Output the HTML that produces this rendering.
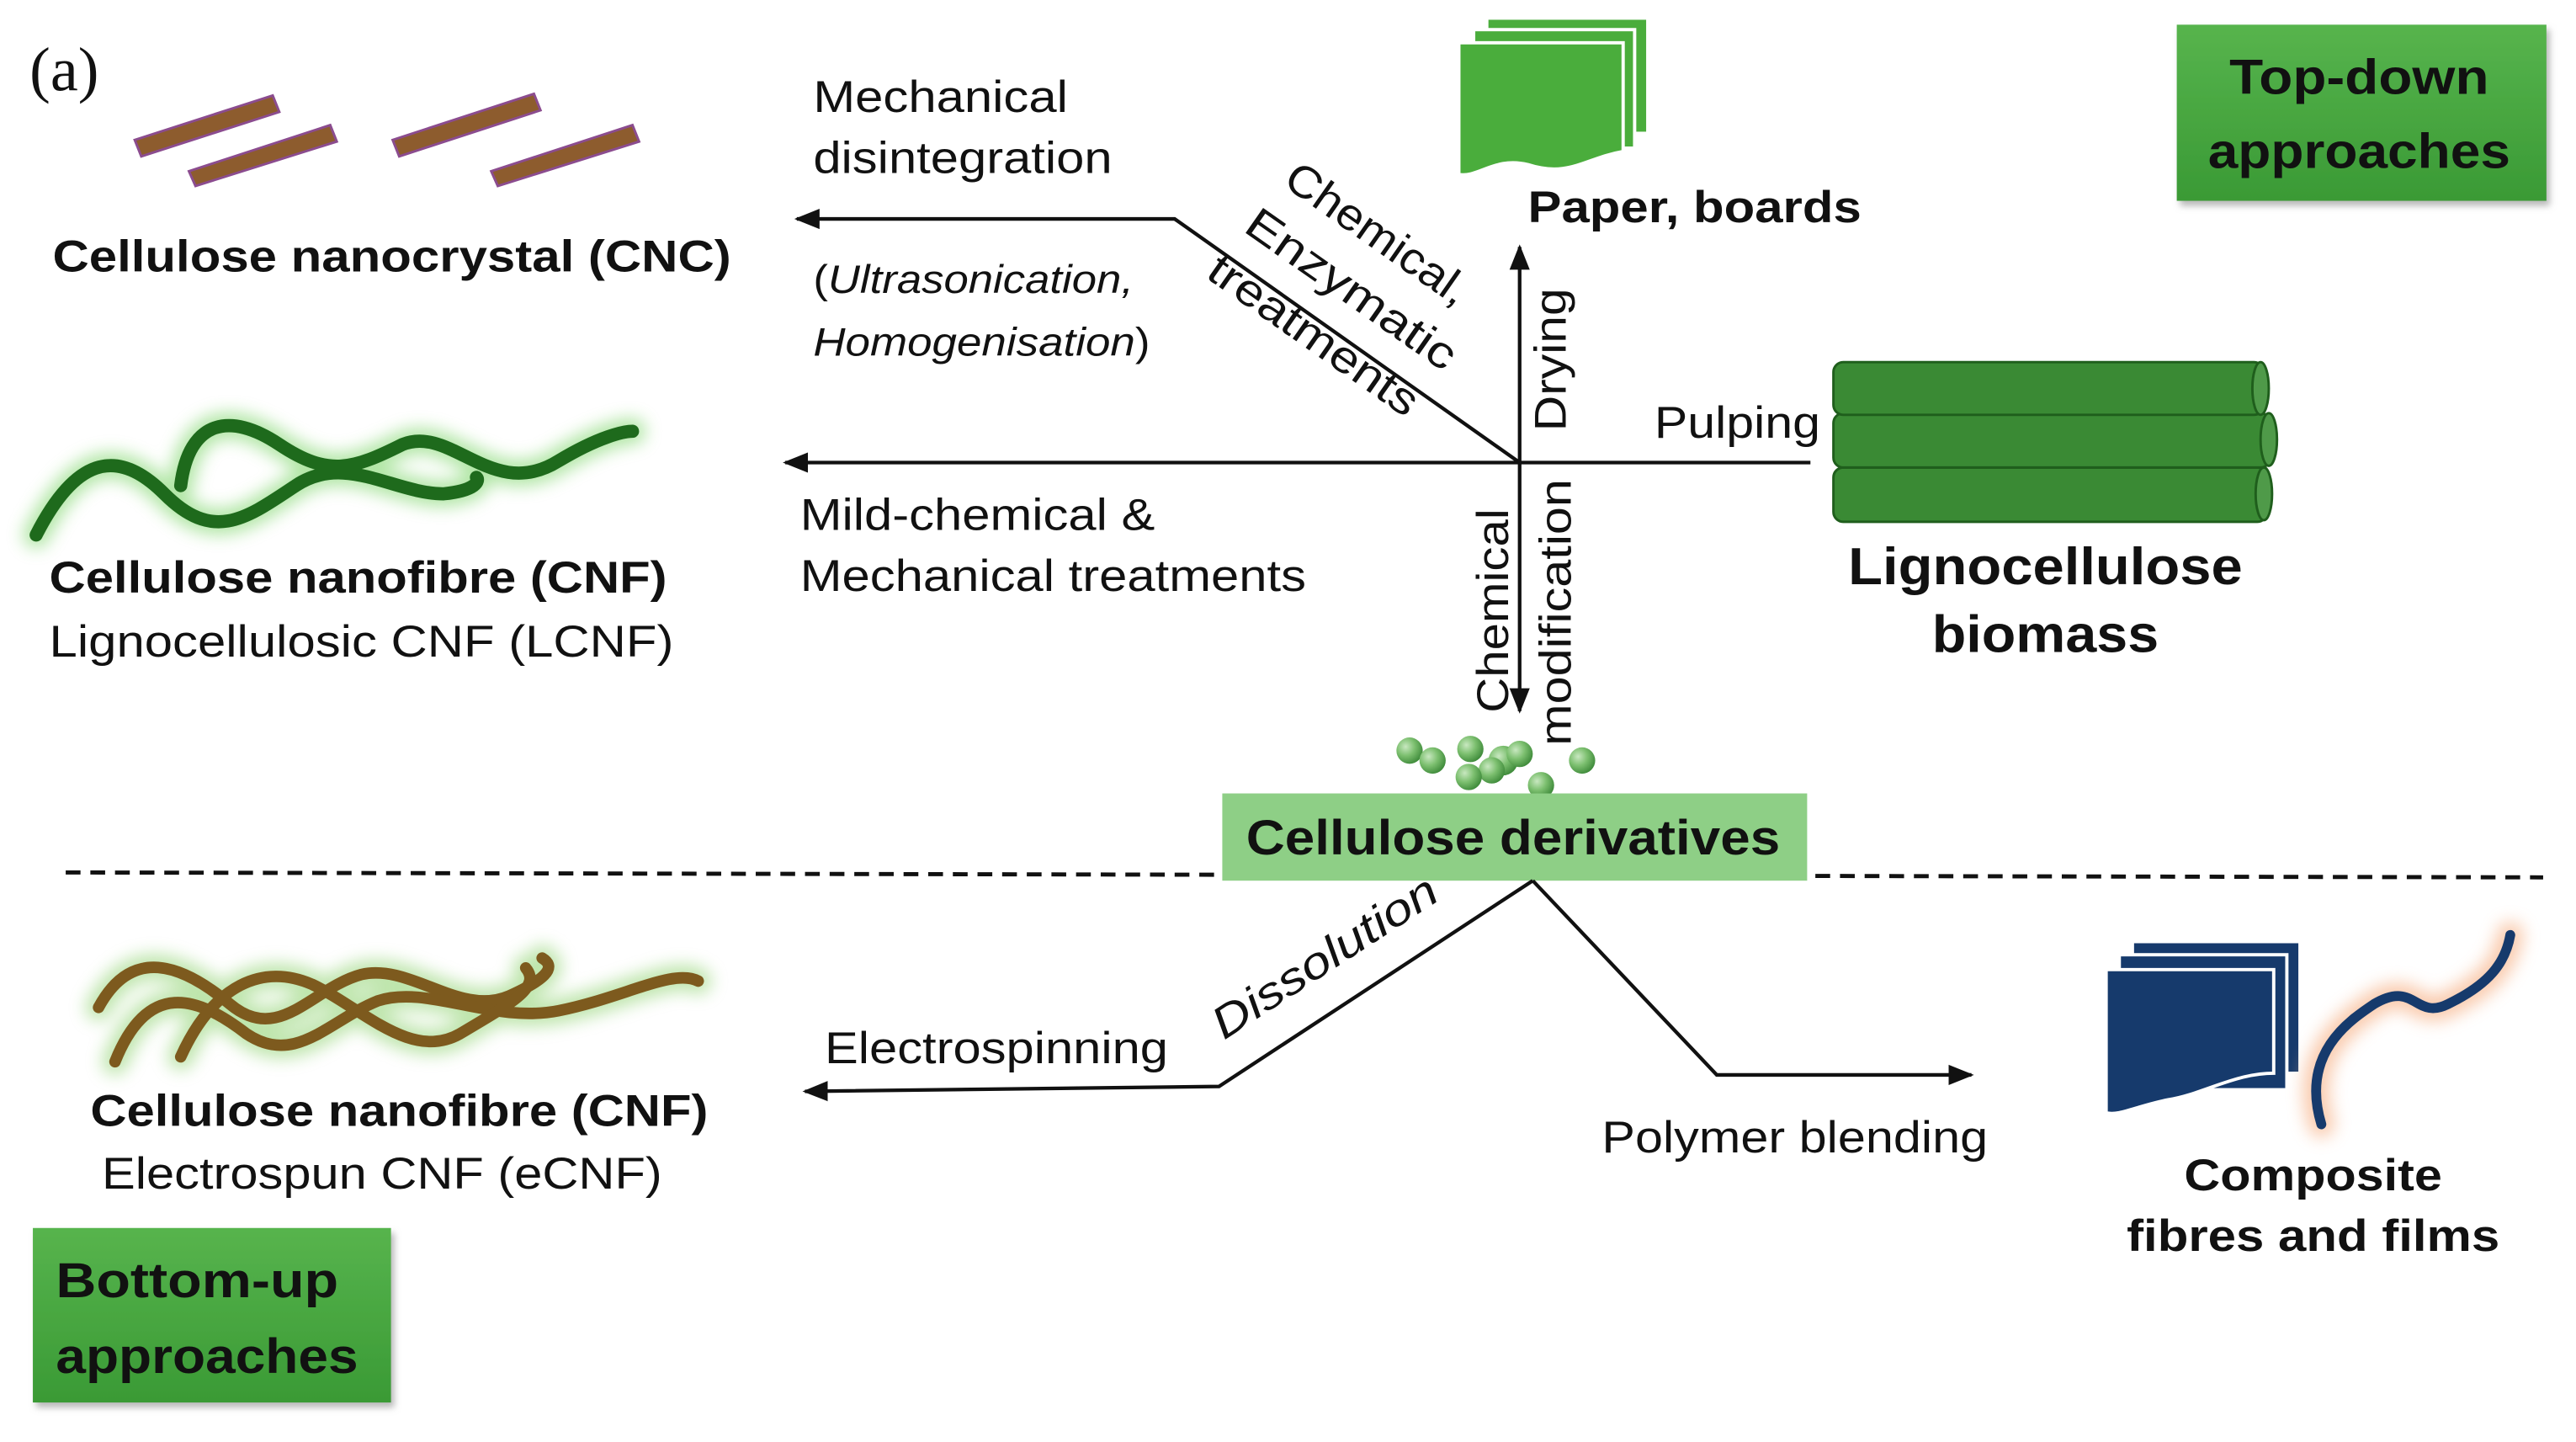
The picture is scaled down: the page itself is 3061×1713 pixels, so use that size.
<!DOCTYPE html>
<html><head><meta charset="utf-8"><style>
html,body{margin:0;padding:0;background:#fff;width:3061px;height:1713px;overflow:hidden}
svg{display:block}
text{font-family:"Liberation Sans",sans-serif;fill:#111}
.b{font-weight:bold}
</style></head><body>
<svg width="3061" height="1713" viewBox="0 0 1568 876" preserveAspectRatio="none" xmlns="http://www.w3.org/2000/svg">
<defs>
<marker id="ah" viewBox="0 0 10 10" refX="9" refY="5" markerWidth="7" markerHeight="7" orient="auto-start-reverse"><path d="M0,1 L10,5 L0,9 z" fill="#111"/></marker>
<linearGradient id="gb" x1="0" y1="0" x2="0" y2="1"><stop offset="0" stop-color="#57b44d"/><stop offset="1" stop-color="#3a9a35"/></linearGradient>
<filter id="glow" x="-20%" y="-40%" width="140%" height="180%"><feGaussianBlur stdDeviation="5"/></filter>
<filter id="sh"><feDropShadow dx="2" dy="3" stdDeviation="2" flood-color="#888" flood-opacity=".6"/></filter>
<radialGradient id="sp" cx=".35" cy=".35" r=".7"><stop offset="0" stop-color="#c8e8c0"/><stop offset=".5" stop-color="#7cbf6f"/><stop offset="1" stop-color="#3e8a3a"/></radialGradient>
</defs>
<text x="18" y="55" style="font-family:'Liberation Serif',serif" font-size="38">(a)</text>
<g stroke="#8b4c8f" stroke-width="1.5" fill="#8d5c2e">
<polygon points="82,85 166,58 170,68 86,95"/>
<polygon points="115,104 201,76 205,86 119,113"/>
<polygon points="239,85 325,57 329,67 243,95"/>
<polygon points="299,104 385,76 389,86 303,113"/>
</g>
<text x="32" y="165" class="b" font-size="27" textLength="413" lengthAdjust="spacingAndGlyphs">Cellulose nanocrystal (CNC)</text>
<g fill="none" stroke-linecap="round">
<g stroke="#7ed66a" stroke-width="16" opacity=".6" filter="url(#glow)">
<path d="M22,325 C45,280 70,270 100,300 C130,330 150,315 180,295 C210,275 240,300 270,300 C290,298 292,292 290,290"/>
<path d="M110,295 C115,255 140,250 170,270 C200,290 215,285 245,270 C275,258 300,305 340,280 C365,265 380,262 385,262"/>
</g>
<g stroke="#1e6a1c" stroke-width="8">
<path d="M22,325 C45,280 70,270 100,300 C130,330 150,315 180,295 C210,275 240,300 270,300 C290,298 292,292 290,290"/>
<path d="M110,295 C115,255 140,250 170,270 C200,290 215,285 245,270 C275,258 300,305 340,280 C365,265 380,262 385,262"/>
</g>
</g>
<text x="30" y="360" class="b" font-size="27" textLength="376" lengthAdjust="spacingAndGlyphs">Cellulose nanofibre (CNF)</text>
<text x="30" y="399" font-size="27" textLength="380" lengthAdjust="spacingAndGlyphs">Lignocellulosic CNF (LCNF)</text>
<g stroke="#111" stroke-width="2.2" fill="none">
<polyline points="925,281 715,133 485,133" marker-end="url(#ah)"/>
<line x1="1102" y1="281" x2="478" y2="281" marker-end="url(#ah)"/>
<line x1="925" y1="281" x2="925" y2="150" marker-end="url(#ah)"/>
<line x1="925" y1="281" x2="925" y2="432" marker-end="url(#ah)"/>
</g>
<text x="495" y="68" font-size="27" textLength="155" lengthAdjust="spacingAndGlyphs">Mechanical</text>
<text x="495" y="105" font-size="27" textLength="182" lengthAdjust="spacingAndGlyphs">disintegration</text>
<text x="495" y="178" font-size="24" textLength="195" lengthAdjust="spacingAndGlyphs">(<tspan font-style="italic">Ultrasonication,</tspan></text>
<text x="495" y="216" font-size="24" textLength="205" lengthAdjust="spacingAndGlyphs"><tspan font-style="italic">Homogenisation</tspan>)</text>
<g transform="translate(780,112) rotate(35)"><text font-size="27" textLength="130" lengthAdjust="spacingAndGlyphs">Chemical,</text></g>
<g transform="translate(756,140) rotate(35)"><text font-size="27" textLength="150" lengthAdjust="spacingAndGlyphs">Enzymatic</text></g>
<g transform="translate(733,168) rotate(35)"><text font-size="27" textLength="150" lengthAdjust="spacingAndGlyphs">treatments</text></g>
<g transform="translate(953,262) rotate(-90)"><text font-size="27" textLength="87" lengthAdjust="spacingAndGlyphs">Drying</text></g>
<text x="1007" y="266" font-size="27" textLength="101" lengthAdjust="spacingAndGlyphs">Pulping</text>
<g transform="translate(918,433) rotate(-90)"><text font-size="27" textLength="124" lengthAdjust="spacingAndGlyphs">Chemical</text></g>
<g transform="translate(956,453) rotate(-90)"><text font-size="27" textLength="162" lengthAdjust="spacingAndGlyphs">modification</text></g>
<text x="487" y="322" font-size="27" textLength="216" lengthAdjust="spacingAndGlyphs">Mild-chemical &amp;</text>
<text x="487" y="359" font-size="27" textLength="308" lengthAdjust="spacingAndGlyphs">Mechanical treatments</text>
<g fill="#4aad3c" stroke="#fff" stroke-width="2">
<rect x="905" y="11" width="98" height="70"/>
<rect x="897" y="18" width="98" height="72"/>
<path d="M888,26 H988 V92 C965,96 955,108 930,100 C910,95 900,108 888,106 Z"/>
</g>
<text x="930" y="135" class="b" font-size="27" textLength="203" lengthAdjust="spacingAndGlyphs">Paper, boards</text>
<g stroke="#1f5e1c" stroke-width="1.5">
<rect x="1116" y="284" width="264" height="33" rx="6" fill="#3a8a34"/>
<ellipse cx="1378" cy="300" rx="5" ry="16" fill="#4f9a49"/>
<rect x="1116" y="251" width="266" height="33" rx="6" fill="#3a8a34"/>
<ellipse cx="1381" cy="267" rx="5" ry="16" fill="#4f9a49"/>
<rect x="1116" y="220" width="262" height="32" rx="6" fill="#3a8a34"/>
<ellipse cx="1376" cy="236" rx="5" ry="16" fill="#4f9a49"/>
</g>
<text x="1245" y="355" class="b" font-size="32" text-anchor="middle" textLength="240" lengthAdjust="spacingAndGlyphs">Lignocellulose</text>
<text x="1245" y="396" class="b" font-size="32" text-anchor="middle" textLength="138" lengthAdjust="spacingAndGlyphs">biomass</text>
<rect x="1325" y="15" width="225" height="107" fill="url(#gb)" filter="url(#sh)"/>
<text x="1436" y="57" class="b" font-size="30" text-anchor="middle" textLength="158" lengthAdjust="spacingAndGlyphs">Top-down</text>
<text x="1436" y="102" class="b" font-size="30" text-anchor="middle" textLength="184" lengthAdjust="spacingAndGlyphs">approaches</text>
<g fill="url(#sp)">
<circle cx="858" cy="456" r="8"/><circle cx="872" cy="462" r="8"/><circle cx="895" cy="455" r="8"/>
<circle cx="915" cy="462" r="9"/><circle cx="908" cy="468" r="8"/><circle cx="894" cy="472" r="8"/>
<circle cx="925" cy="458" r="8"/><circle cx="963" cy="462" r="8"/><circle cx="938" cy="477" r="8"/>
</g>
<line x1="40" y1="530" x2="1548" y2="533" stroke="#111" stroke-width="2.5" stroke-dasharray="9,6"/>
<rect x="744" y="482" width="356" height="53" fill="#8ecf86"/>
<text x="921" y="519" class="b" font-size="30" text-anchor="middle" textLength="325" lengthAdjust="spacingAndGlyphs">Cellulose derivatives</text>
<g stroke="#111" stroke-width="2.2" fill="none">
<polyline points="933,535 742,660 490,663" marker-end="url(#ah)"/>
<polyline points="933,535 1045,653 1200,653" marker-end="url(#ah)"/>
</g>
<g transform="translate(745,632) rotate(-33)"><text font-size="27" font-style="italic" textLength="158" lengthAdjust="spacingAndGlyphs">Dissolution</text></g>
<text x="502" y="646" font-size="27" textLength="209" lengthAdjust="spacingAndGlyphs">Electrospinning</text>
<text x="975" y="700" font-size="27" textLength="235" lengthAdjust="spacingAndGlyphs">Polymer blending</text>
<g fill="none" stroke-linecap="round">
<g stroke="#8ad06a" stroke-width="16" opacity=".55" filter="url(#glow)">
<path d="M60,612 C80,575 110,585 140,610 C170,635 190,600 220,592 C250,585 280,618 310,605 C330,596 340,588 330,582"/>
<path d="M70,645 C90,595 120,605 150,628 C180,648 200,620 230,608 C260,598 300,622 340,614 C380,606 410,588 425,596"/>
<path d="M110,642 C130,598 160,585 190,598 C220,612 250,645 280,628 C310,610 330,600 320,588"/>
</g>
<g stroke="#7d5a1e" stroke-width="7">
<path d="M60,612 C80,575 110,585 140,610 C170,635 190,600 220,592 C250,585 280,618 310,605 C330,596 340,588 330,582"/>
<path d="M70,645 C90,595 120,605 150,628 C180,648 200,620 230,608 C260,598 300,622 340,614 C380,606 410,588 425,596"/>
<path d="M110,642 C130,598 160,585 190,598 C220,612 250,645 280,628 C310,610 330,600 320,588"/>
</g>
</g>
<text x="55" y="684" class="b" font-size="27" textLength="376" lengthAdjust="spacingAndGlyphs">Cellulose nanofibre (CNF)</text>
<text x="62" y="722" font-size="27" textLength="341" lengthAdjust="spacingAndGlyphs">Electrospun CNF (eCNF)</text>
<rect x="20" y="746" width="218" height="106" fill="url(#gb)" filter="url(#sh)"/>
<text x="34" y="788" class="b" font-size="30" textLength="172" lengthAdjust="spacingAndGlyphs">Bottom-up</text>
<text x="34" y="834" class="b" font-size="30" textLength="184" lengthAdjust="spacingAndGlyphs">approaches</text>
<g fill="#163a6c" stroke="#fff" stroke-width="2">
<rect x="1298" y="572" width="102" height="80"/>
<rect x="1290" y="580" width="102" height="82"/>
<path d="M1282,589 H1384 V652 C1360,652 1340,665 1320,668 C1300,672 1290,678 1282,676 Z"/>
</g>
<g fill="none" stroke-linecap="round">
<path d="M1413,683 C1400,640 1430,620 1445,610 C1470,595 1470,620 1490,610 C1515,598 1525,585 1528,568" stroke="#f7b58c" stroke-width="16" opacity=".7" filter="url(#glow)"/>
<path d="M1413,683 C1400,640 1430,620 1445,610 C1470,595 1470,620 1490,610 C1515,598 1525,585 1528,568" stroke="#163a6c" stroke-width="6"/>
</g>
<text x="1408" y="723" class="b" font-size="27" text-anchor="middle" textLength="157" lengthAdjust="spacingAndGlyphs">Composite</text>
<text x="1408" y="760" class="b" font-size="27" text-anchor="middle" textLength="227" lengthAdjust="spacingAndGlyphs">fibres and films</text>
</svg>
</body></html>
